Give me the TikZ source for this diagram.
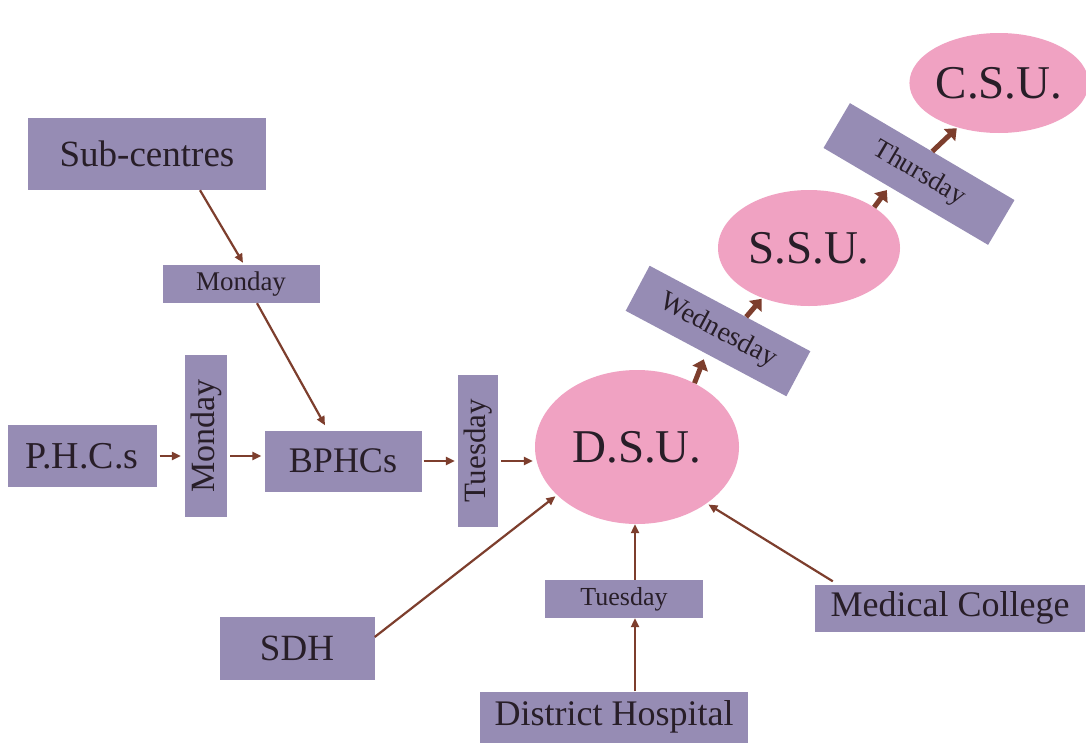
\documentclass[tikz,border=0pt]{standalone}
\usepackage{fontspec}
\setmainfont{Liberation Serif}
\usetikzlibrary{shapes.geometric,arrows.meta,calc}
\definecolor{boxfill}{RGB}{150,140,180}
\definecolor{pinkfill}{RGB}{240,162,194}
\definecolor{arrowbrown}{RGB}{125,62,45}
\definecolor{inktext}{RGB}{40,30,40}
\newcommand{\fsz}[1]{\fontsize{#1}{#1}\selectfont}
\begin{document}
\begin{tikzpicture}[x=1pt,y=-1pt,
  box/.style={fill=boxfill, draw=none, inner sep=0pt, text=inktext},
  unit/.style={ellipse, fill=pinkfill, draw=none, inner sep=0pt, text=inktext},
  arr/.style={draw=arrowbrown, line width=2.2pt, -{Triangle[length=9pt,width=8pt]}},
  bigarr/.style={draw=arrowbrown, line width=5pt, -{Triangle[length=10pt,width=16pt]}}]
\fill[white] (0,0) rectangle (1086,747);
\useasboundingbox (0,0) rectangle (1086,747);

% nodes
\node[box, minimum width=238pt, minimum height=72pt, font=\fsz{37}] (sub) at (147,154) {Sub-centres};
\node[box, minimum width=157pt, minimum height=38pt, font=\fsz{27}] (mon1) at (241,284) {Monday};
\node[box, minimum width=149pt, minimum height=62pt, font=\fsz{38}] (phc) at (82,456) {P.H.C.s};
\node[box, minimum width=42pt, minimum height=162pt, font=\fsz{34}] (monv) at (206,436) {\rotatebox{90}{Monday}};
\node[box, minimum width=157pt, minimum height=61pt, font=\fsz{36}] (bphc) at (343,461) {BPHCs};
\node[box, minimum width=40pt, minimum height=152pt, font=\fsz{31}] (tuev) at (478,451) {\rotatebox{90}{Tuesday}};
\node[unit, minimum width=204pt, minimum height=154pt, font=\fsz{47}] (dsu) at (637,447) {D.S.U.};
\node[box, rotate=-28, minimum width=182pt, minimum height=51pt, font=\fsz{28}] (wed) at (718,331) {Wednesday};
\node[unit, minimum width=182pt, minimum height=116pt, font=\fsz{47}] (ssu) at (809,248) {S.S.U.};
\node[box, rotate=-30.5, minimum width=191pt, minimum height=52pt, font=\fsz{27}] (thu) at (919,174) {Thursday};
\node[unit, minimum width=168pt, minimum height=100pt, font=\fsz{47}] (csu) at (999,83) {C.S.U.};
\node[box, minimum width=158pt, minimum height=38pt, font=\fsz{26}] (tueb) at (624,599) {Tuesday};
\node[box, minimum width=155pt, minimum height=63pt, font=\fsz{37}] (sdh) at (297,648) {SDH};
\node[box, minimum width=268pt, minimum height=51pt, font=\fsz{36}] (dh) at (614,717) {District Hospital};
\node[box, minimum width=270pt, minimum height=47pt, font=\fsz{36}] (mc) at (950,608) {Medical College};

% connectors
\draw[arr] ([xshift=53pt]sub.south) -- ([xshift=2pt,yshift=2pt]mon1.north);
\draw[arr] ([xshift=16pt]mon1.south) -- ([xshift=-18pt,yshift=5pt]bphc.north);
\draw[arr, shorten <=3pt, shorten >=4pt] (phc.east) -- (phc.east -| monv.west);
\draw[arr, shorten <=3pt, shorten >=3pt] (phc.east -| monv.east) -- (phc.east -| bphc.west);
\draw[arr, shorten <=2pt, shorten >=3pt] (bphc.east) -- (bphc.east -| tuev.west);
\draw[arr, shorten <=3pt, shorten >=2pt] (bphc.east -| tuev.east) -- (bphc.east -| dsu.west);
\draw[arr, shorten >=2pt] ([yshift=11pt]sdh.east) -- (dsu.211);
\coordinate (tx) at ([xshift=11pt]tueb.north);
\draw[arr] (tx) -- (tx |- dsu.south);
\coordinate (bx) at ([xshift=11pt]tueb.south);
\draw[arr] (bx |- dh.north) -- (bx);
\draw[arr, shorten >=2pt] ([xshift=18pt,yshift=3pt]mc.north west) -- (dsu.321);

\draw[bigarr, shorten >=6pt] (dsu.48) -- (wed.south);
\draw[bigarr, shorten >=1pt] ($(wed.north)!0.2!(wed.north east)$) -- (ssu.227);
\draw[bigarr, shorten >=4pt] (ssu.32) -- ($(thu.south)!0.2!(thu.south west)$);
\draw[bigarr, shorten >=1pt] (thu.north) -- (csu.227);
\end{tikzpicture}
\end{document}
